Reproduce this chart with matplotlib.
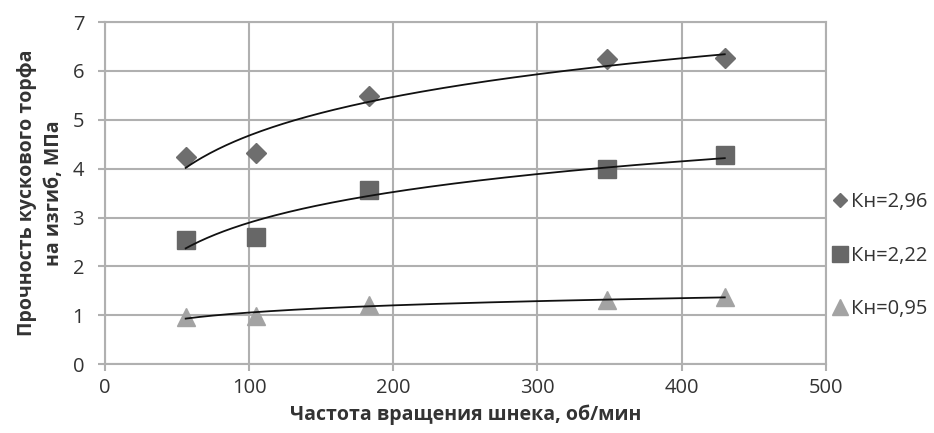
import numpy as np
import matplotlib
matplotlib.use('Agg')
import matplotlib.pyplot as plt

plt.rcParams['font.family'] = ['Open Sans', 'DejaVu Sans']

# частота вращения шнека, об/мин
speed = [56, 105, 183, 348, 430]

# прочность на изгиб, МПа
kn_296 = [4.24, 4.32, 5.48, 6.25, 6.27]
kn_222 = [2.55, 2.61, 3.56, 4.00, 4.27]
kn_095 = [0.97, 0.99, 1.22, 1.32, 1.37]

labels = ['Кн=2,96', 'Кн=2,22', 'Кн=0,95']

grid_col = '#b0b0b0'
text_col = '#333333'

fig = plt.figure(figsize=(9.34, 4.33), dpi=100)
ax = fig.add_axes([0.1124, 0.159, 0.7716, 0.790])

series = [
    (kn_296, 'D', '#6e6e6e', 10.5),
    (kn_222, 's', '#676767', 13),
    (kn_095, '^', '#a3a3a3', 12.5),
]

x = np.array(speed, dtype=float)
xx = np.linspace(x.min(), x.max(), 200)
for (vals, mk, col, ms), lab in zip(series, labels):
    ax.plot(x, vals, linestyle='none', marker=mk, color=col, markersize=ms,
            label=lab, zorder=3)
    # логарифмическая линия тренда, как в Excel
    b, a = np.polyfit(np.log(x), vals, 1)
    ax.plot(xx, a + b * np.log(xx), color='#111111', linewidth=1.3, zorder=4)

ax.set_xlim(0, 500)
ax.set_ylim(0, 7)
ax.set_xticks(range(0, 501, 100))
ax.set_yticks(range(0, 8))
ax.grid(True, color=grid_col, linewidth=1.5)
ax.set_axisbelow(True)
for s in ax.spines.values():
    s.set_color(grid_col)
    s.set_linewidth(1.5)
ax.tick_params(colors=grid_col, labelcolor=text_col, labelsize=14.5,
               length=5, width=1.5)
ax.tick_params(axis='x', pad=5)
ax.tick_params(axis='y', pad=10)

ax.set_xlabel('Частота вращения шнека, об/мин', fontsize=14,
              fontweight='bold', color=text_col, labelpad=5)
ax.set_ylabel('Прочность кускового торфа\nна изгиб, МПа', fontsize=14,
              fontweight='bold', color=text_col, labelpad=6, linespacing=1.45)

leg = ax.legend(loc='center left', bbox_to_anchor=(1.0, 0.317), frameon=False,
                handletextpad=0.15, labelspacing=1.65, fontsize=14.5,
                handlelength=0.8, borderpad=0.1, borderaxespad=0.2)
for t in leg.get_texts():
    t.set_color(text_col)
for h, ms in zip(leg.legend_handles, [7, 12, 12]):
    h.set_markersize(ms)

fig.savefig('out.png', dpi=100)
